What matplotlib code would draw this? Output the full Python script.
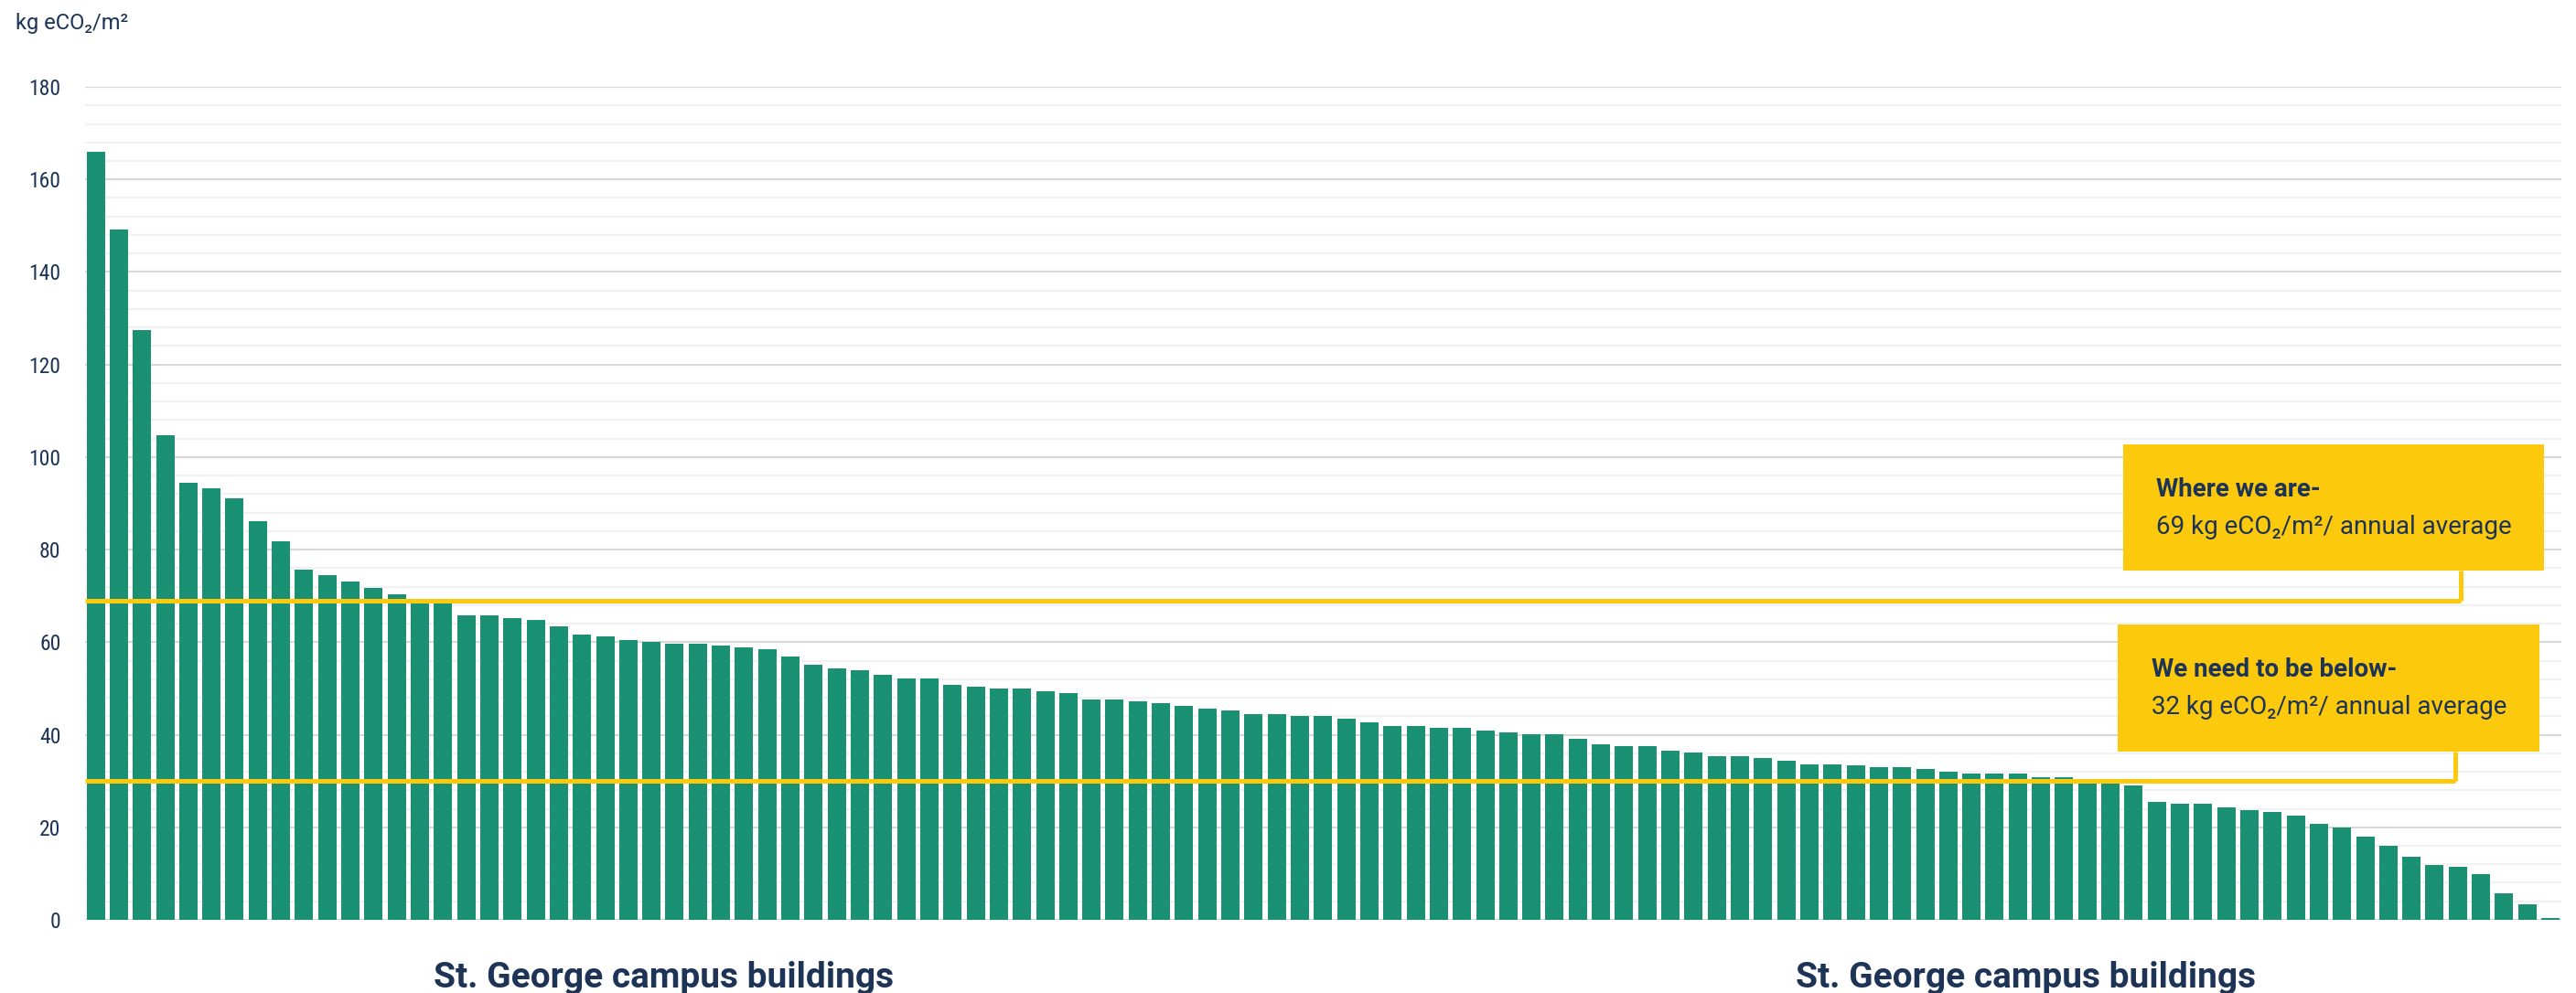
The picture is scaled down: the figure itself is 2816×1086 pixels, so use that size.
import matplotlib
matplotlib.use('Agg')
import matplotlib.pyplot as plt
from matplotlib.patches import Rectangle
from matplotlib import font_manager

# intensidad por edificio, ordenada de mayor a menor
intensidad = [
    165.9, 149.2, 127.5, 104.8, 94.4, 93.2, 91.0, 86.2, 81.7, 75.6,
    74.4, 73.1, 71.8, 70.4, 68.3, 68.3, 65.7, 65.7, 65.2, 64.8,
    63.4, 61.7, 61.3, 60.5, 60.1, 59.6, 59.6, 59.2, 58.9, 58.5,
    56.9, 55.2, 54.3, 53.9, 53.0, 52.2, 52.2, 50.8, 50.4, 49.9,
    49.9, 49.4, 49.0, 47.7, 47.7, 47.2, 46.8, 46.3, 45.7, 45.2,
    44.4, 44.4, 44.0, 44.0, 43.5, 42.7, 41.8, 41.8, 41.4, 41.4,
    40.9, 40.5, 40.1, 40.1, 39.2, 37.9, 37.5, 37.5, 36.5, 36.1,
    35.3, 35.3, 34.9, 34.4, 33.6, 33.5, 33.4, 32.9, 32.9, 32.5,
    32.1, 31.6, 31.6, 31.6, 30.8, 30.8, 30.2, 30.1, 29.0, 25.5,
    25.1, 25.1, 24.2, 23.8, 23.3, 22.5, 20.7, 19.9, 18.0, 15.9,
    13.7, 11.9, 11.5, 9.8, 5.8, 3.3, 0.3,
]

linea_actual = 69
linea_meta = 30

y_ticks = [0, 20, 40, 60, 80, 100, 120, 140, 160, 180]

titulo_actual = 'Where we are-'
texto_actual = '69 kg eCO₂/m²/ annual average'
titulo_meta = 'We need to be below-'
texto_meta = '32 kg eCO₂/m²/ annual average'
etiqueta_y = 'kg eCO₂/m²'
etiqueta_x = 'St. George campus buildings'

VERDE = '#1a9172'
AMARILLO = '#fdc90c'
AZUL = '#1d3456'

instaladas = {f.name for f in font_manager.fontManager.ttflist}
ANGOSTA = [f for f in ['Roboto Condensed', 'Liberation Sans Narrow', 'Roboto'] if f in instaladas] + ['DejaVu Sans']
NORMAL = ['Roboto', 'DejaVu Sans']


def caja(ax, x0, y0, x1, y1, titulo, texto, conector_x, nivel):
    ax.add_patch(Rectangle((x0, y0), x1 - x0, y1 - y0, transform=ax.transAxes,
                           facecolor=AMARILLO, edgecolor='none', zorder=5, clip_on=False))
    ax.text(x0 + 0.0135, y0 + 0.0895, titulo, transform=ax.transAxes, ha='left', va='baseline',
            fontsize=20, fontweight='bold', color=AZUL, family=NORMAL, zorder=6)
    ax.text(x0 + 0.0135, y0 + 0.0445, texto, transform=ax.transAxes, ha='left', va='baseline',
            fontsize=20, color=AZUL, family=NORMAL, zorder=6)
    # linea horizontal hasta el conector y luego sube hasta la caja
    tr = ax.get_yaxis_transform()
    ax.plot([0, conector_x], [nivel, nivel], transform=tr, color=AMARILLO, lw=3.6,
            solid_capstyle='butt', zorder=4, clip_on=False)
    y_nivel = ax.transLimits.transform((0, nivel))[1]
    ax.plot([conector_x, conector_x], [y_nivel, y0], transform=ax.transAxes, color=AMARILLO,
            lw=3.6, solid_capstyle='butt', zorder=4, clip_on=False)


def main():
    fig = plt.figure(figsize=(28.16, 10.86), dpi=100)
    ax = fig.add_axes([0.033, 0.0737, 0.9613, 0.8388])

    x = list(range(len(intensidad)))
    ax.bar(x, intensidad, width=0.79, color=VERDE, edgecolor='none', zorder=3)

    ax.set_xlim(-0.46, len(intensidad) - 0.53)
    ax.set_ylim(0, 180)
    ax.set_yticks(y_ticks)
    ax.set_yticks([v for v in range(0, 181, 4) if v % 20 != 0], minor=True)
    ax.set_xticks([])
    ax.grid(axis='y', which='major', color='#d8d8d8', lw=1.6, zorder=0)
    ax.grid(axis='y', which='minor', color='#f1f1f1', lw=1.6, zorder=0)
    ax.tick_params(axis='y', which='both', length=0, pad=19, labelsize=17, labelcolor=AZUL)
    for lbl in ax.get_yticklabels():
        lbl.set_family(ANGOSTA)
    for s in ax.spines.values():
        s.set_visible(False)

    caja(ax, 0.823, 0.419, 0.993, 0.571, titulo_actual, texto_actual, 0.9594, linea_actual)
    caja(ax, 0.821, 0.202, 0.991, 0.3546, titulo_meta, texto_meta, 0.957, linea_meta)

    fig.text(17 / 2816, 1 - 32 / 1086, etiqueta_y, ha='left', va='baseline',
             fontsize=17, color=AZUL, family=NORMAL)
    for cx in [726 / 2816, 2215 / 2816]:
        fig.text(cx, 1 - 1080 / 1086, etiqueta_x, ha='center', va='baseline',
                 fontsize=28, fontweight='bold', color=AZUL, family=NORMAL)

    fig.savefig('out.png', dpi=100, facecolor='white')


if __name__ == '__main__':
    main()
